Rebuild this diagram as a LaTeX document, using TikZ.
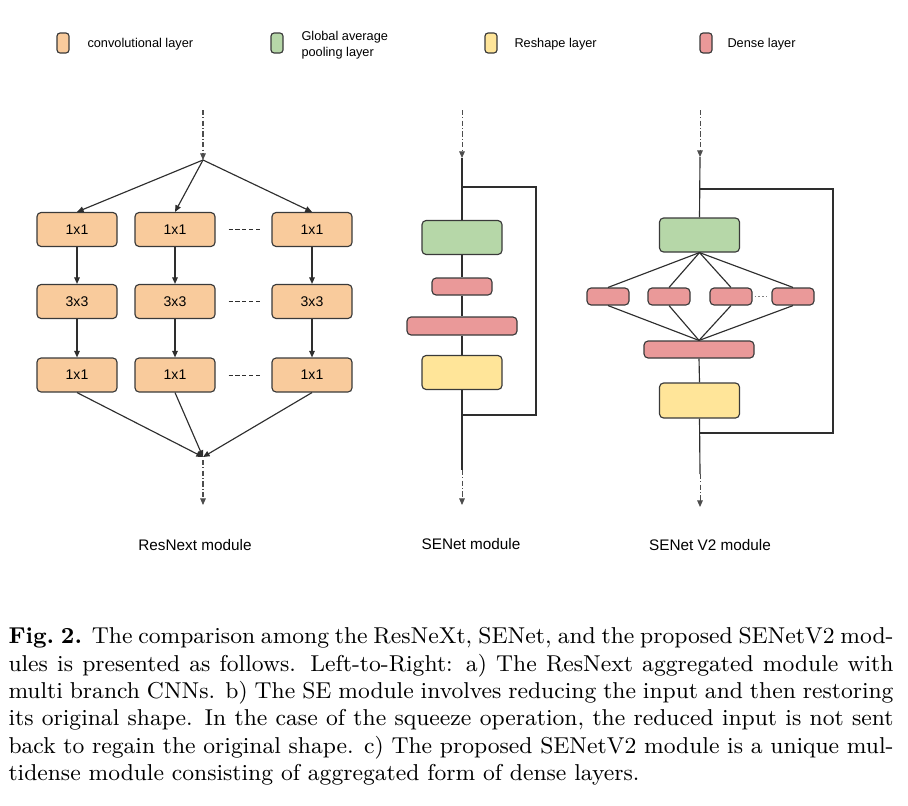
\documentclass[tikz,border=0pt]{standalone}
\usepackage{fontspec}
\newfontfamily\arialf{Liberation Sans}
\usetikzlibrary{arrows.meta}
\newdimen\pxu \pxu=0.392pt
\definecolor{convc}{HTML}{F9CB9C}
\definecolor{gapc}{HTML}{B6D7A8}
\definecolor{reshc}{HTML}{FFE599}
\definecolor{densec}{HTML}{EA9999}
\definecolor{edgec}{HTML}{3A3A3A}
\definecolor{linec}{HTML}{2E2E2E}
\tikzset{
  blk/.style={draw=edgec, line width=0.45pt, rounded corners=1.6pt, inner sep=0pt, font=\arialf\fontsize{5.5}{6.5}\selectfont},
  convbox/.style={blk, fill=convc, minimum width=80\pxu, minimum height=34\pxu},
  gapbox/.style={blk, fill=gapc, minimum width=80\pxu, minimum height=34\pxu},
  reshbox/.style={blk, fill=reshc, minimum width=80\pxu, minimum height=34\pxu},
  densebox/.style={blk, fill=densec, minimum height=17\pxu},
  legbox/.style={blk, minimum width=12\pxu, minimum height=20\pxu, rounded corners=1.2pt},
  legtxt/.style={anchor=west, inner sep=0pt, align=left, font=\arialf\fontsize{5}{6.3}\selectfont},
  modlbl/.style={inner sep=0pt, font=\arialf\fontsize{6}{7}\selectfont},
  conn/.style={draw=linec, line width=0.45pt},
  arr/.style={conn, -{Triangle[length=2.6pt,width=2.2pt]}},
  dashdotline/.style={draw=linec!85, line width=0.4pt, dash pattern=on 2pt off 0.9pt on 0.4pt off 0.9pt},
  dashdotarr/.style={dashdotline, -{Triangle[length=2.6pt,width=2.2pt]}},
  betweendash/.style={draw=linec, line width=0.35pt, dash pattern=on 1.6pt off 1.1pt},
  betweendot/.style={draw=gray, line width=0.4pt, dash pattern=on 0.5pt off 1pt},
}
\begin{document}
\begin{tikzpicture}[x=0.392pt, y=-0.392pt]
\useasboundingbox (0,0) rectangle (908,805);

% ---------- legend ----------
\node[legbox, fill=convc] (lg1) at (63,43) {};
\node[legtxt] (lt1) at (87,44) {convolutional layer};
\node[legbox, fill=gapc] (lg2) at (277,43) {};
\node[legtxt] (lt2) at (301,45) {Global average\\pooling layer};
\node[legbox, fill=reshc] (lg3) at (491,43) {};
\node[legtxt] (lt3) at (514,44) {Reshape layer};
\node[legbox, fill=densec] (lg4) at (706,43) {};
\node[legtxt] (lt4) at (727,44) {Dense layer};

% ---------- ResNext module ----------
\coordinate (rtop) at (203,110);
\coordinate (rsplit) at (203,160);
\coordinate (rmerge) at (203,457);
\coordinate (rmerge2) at (203,460);
\coordinate (rbot) at (203,505);

\node[convbox] (a1) at (77,229.5) {1x1};
\node[convbox] (b1) at (175,229.5) {1x1};
\node[convbox] (c1) at (312,229.5) {1x1};
\node[convbox] (a2) at (77,301.5) {3x3};
\node[convbox] (b2) at (175,301.5) {3x3};
\node[convbox] (c2) at (312,301.5) {3x3};
\node[convbox] (a3) at (77,375) {1x1};
\node[convbox] (b3) at (175,375) {1x1};
\node[convbox] (c3) at (312,375) {1x1};

\draw[dashdotarr] (rtop) -- (rsplit);
\draw[arr] (rsplit) -- (a1.north);
\draw[arr] (rsplit) -- (b1.north);
\draw[arr] (rsplit) -- (c1.north);
\foreach \c in {a,b,c}{
  \draw[arr] (\c1.south) -- (\c2.north);
  \draw[arr] (\c2.south) -- (\c3.north);
  \draw[arr] (\c3.south) -- (rmerge);
}
\draw[dashdotarr] (rmerge2) -- (rbot);
\draw[betweendash] (b1.east) ++(13,0) -- ([xshift=-10\pxu]c1.west);
\draw[betweendash] (b2.east) ++(13,0) -- ([xshift=-10\pxu]c2.west);
\draw[betweendash] (b3.east) ++(13,0) -- ([xshift=-10\pxu]c3.west);
\node[modlbl] (rlbl) at (195,545) {ResNext module};

% ---------- SENet module ----------
\coordinate (stop) at (462,110);
\coordinate (sarr) at (462,158);
\coordinate (sbyp1) at (462,187);
\coordinate (sbyp2) at (536,187);
\coordinate (sbyp3) at (536,415);
\coordinate (sbyp4) at (462,415);
\coordinate (sdd) at (462,470);
\coordinate (sbot) at (462,505);

\node[gapbox] (sg) at (462,237.5) {};
\node[densebox, minimum width=60\pxu] (sd1) at (462,286.5) {};
\node[densebox, minimum width=110\pxu, minimum height=18\pxu] (sd2) at (462,326) {};
\node[reshbox] (sy) at (462,372.5) {};

\draw[dashdotarr] (stop) -- (sarr);
\draw[conn] (sarr) -- (sg.north);
\draw[conn] (sg.south) -- (sd1.north);
\draw[conn] (sd1.south) -- (sd2.north);
\draw[conn] (sd2.south) -- (sy.north);
\draw[conn] (sy.south) -- (sdd);
\draw[dashdotarr] (sdd) -- (sbot);
\draw[conn] (sbyp1) -- (sbyp2) -- (sbyp3) -- (sbyp4);
\node[modlbl] (slbl) at (471,544) {SENet module};

% ---------- SENet V2 module ----------
\coordinate (vtop) at (700,110);
\coordinate (varr) at (700,157);
\coordinate (vbyp1) at (700,189);
\coordinate (vbyp2) at (833,189);
\coordinate (vbyp3) at (833,433);
\coordinate (vbyp4) at (700,433);
\coordinate (vdd) at (700,474);
\coordinate (vbot) at (700,507);

\node[gapbox] (vg) at (699.5,235) {};
\node[densebox, minimum width=42\pxu] (vd1) at (608,296.5) {};
\node[densebox, minimum width=42\pxu] (vd2) at (669,296.5) {};
\node[densebox, minimum width=42\pxu] (vd3) at (731,296.5) {};
\node[densebox, minimum width=42\pxu] (vd4) at (793,296.5) {};
\node[densebox, minimum width=110\pxu] (vbig) at (699,349.5) {};
\node[reshbox, minimum height=35\pxu] (vy) at (699.5,400.5) {};

\draw[dashdotarr] (vtop) -- (varr);
\draw[conn] (varr) -- (vg.north);
\foreach \i in {1,2,3,4}{
  \draw[conn] (vg.south) -- (vd\i.north);
  \draw[conn] (vd\i.south) -- (vbig.north);
}
\draw[betweendot] ([xshift=2\pxu]vd3.east) -- ([xshift=-2\pxu]vd4.west);
\draw[conn] (vbig.south) -- (vy.north);
\draw[conn] (vy.south) -- (vdd);
\draw[dashdotarr] (vdd) -- (vbot);
\draw[conn] (vbyp1) -- (vbyp2) -- (vbyp3) -- (vbyp4);
\node[modlbl] (vlbl) at (710,545) {SENet V2 module};

% ---------- caption ----------
\node[anchor=north west, inner sep=0pt, text width=885\pxu, align=justify,
      font=\fontsize{9}{10.75}\selectfont] (cap) at (8,627)
{\textbf{Fig.\ 2.} The comparison among the ResNeXt, SENet, and the proposed SENetV2 mod-\linebreak
ules is presented as follows. Left-to-Right: a) The ResNext aggregated module with\linebreak
multi branch CNNs. b) The SE module involves reducing the input and then restoring\linebreak
its original shape. In the case of the squeeze operation, the reduced input is not sent\linebreak
back to regain the original shape. c) The proposed SENetV2 module is a unique mul-\linebreak
tidense module consisting of aggregated form of dense layers.};
\end{tikzpicture}
\end{document}
